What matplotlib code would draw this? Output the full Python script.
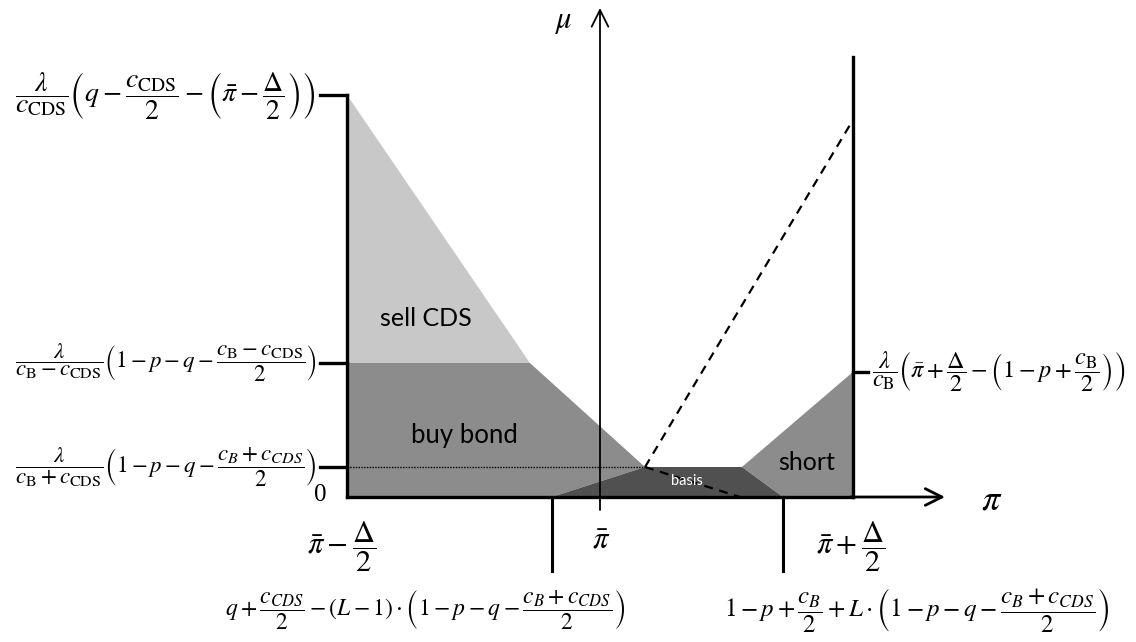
import matplotlib
matplotlib.use("Agg")
import matplotlib.pyplot as plt
from matplotlib.patches import Polygon

plt.rcParams['mathtext.fontset'] = 'stix'

# ---- schematic coordinates (pi on x, mu on y) ----
pi_left, pi_bar, pi_right = -1.0, 0.0, 1.0
pi_kink = -0.277          # end of sell CDS diagonal
pi_apex = 0.178           # basis apex (left top)
pi_basis_tr = 0.561       # basis right top
pi_low_left = -0.19       # bottom marker left
pi_low_right = 0.723      # bottom marker right
pi_dash_end = 0.553       # lower dashed end

mu_sell = 4.02
mu_bond = 1.34
mu_basis = 0.30
mu_short = 1.25
mu_dash_top = 3.77
mu_right_top = 4.40

region_names = ["sell CDS", "buy bond", "short", "basis"]
region_colors = ["#c8c8c8", "#8c8c8c", "#8c8c8c", "#505050"]

left_labels = [
    r"$\dfrac{\lambda}{c_{\mathrm{CDS}}}\left(q-\dfrac{c_{\mathrm{CDS}}}{2}-\left(\bar{\pi}-\dfrac{\Delta}{2}\right)\right)$",
    r"$\dfrac{\lambda}{c_{\mathrm{B}}-c_{\mathrm{CDS}}}\left(1-p-q-\dfrac{c_{\mathrm{B}}-c_{\mathrm{CDS}}}{2}\right)$",
    r"$\dfrac{\lambda}{c_{\mathrm{B}}+c_{\mathrm{CDS}}}\left(1-p-q-\dfrac{c_{B}+c_{CDS}}{2}\right)$",
]
right_label = r"$\dfrac{\lambda}{c_{\mathrm{B}}}\left(\bar{\pi}+\dfrac{\Delta}{2}-\left(1-p+\dfrac{c_{\mathrm{B}}}{2}\right)\right)$"
bottom_labels = [r"$\bar{\pi}-\dfrac{\Delta}{2}$", r"$\bar{\pi}$", r"$\bar{\pi}+\dfrac{\Delta}{2}$"]
low_labels = [
    r"$q+\dfrac{c_{CDS}}{2}-(L-1)\cdot\left(1-p-q-\dfrac{c_{B}+c_{CDS}}{2}\right)$",
    r"$1-p+\dfrac{c_{B}}{2}+L\cdot\left(1-p-q-\dfrac{c_{B}+c_{CDS}}{2}\right)$",
]

fig = plt.figure(figsize=(11.36, 6.42), dpi=100)
ax = fig.add_axes([0, 0, 1, 1])
ax.set_xlim(-2.372, 2.119)
ax.set_ylim(-1.45, 4.97)
ax.axis("off")

# regions
polys = [
    [(pi_left, mu_sell), (pi_kink, mu_bond), (pi_left, mu_bond)],
    [(pi_left, mu_bond), (pi_kink, mu_bond), (pi_apex, mu_basis), (pi_low_left, 0), (pi_left, 0)],
    [(pi_basis_tr, mu_basis), (pi_right, mu_short), (pi_right, 0), (pi_low_right, 0)],
    [(pi_low_left, 0), (pi_apex, mu_basis), (pi_basis_tr, mu_basis), (pi_low_right, 0)],
]
for pts, c in zip(polys, region_colors):
    ax.add_patch(Polygon(pts, closed=True, facecolor=c, edgecolor="none", zorder=1))

# dotted line
ax.plot([pi_left, pi_apex], [mu_basis, mu_basis], color="black", lw=1.0, ls=(0, (1, 1)), zorder=3)
# dashed lines
ax.plot([pi_apex, pi_right], [mu_basis, mu_dash_top], color="black", lw=1.6, ls=(0, (4, 3)), zorder=3)
ax.plot([pi_apex, pi_dash_end], [mu_basis, 0], color="black", lw=1.6, ls=(0, (4, 3)), zorder=3)

# border lines
ax.plot([pi_left, pi_left], [0, mu_sell], color="black", lw=2.4, zorder=4)
ax.plot([pi_right, pi_right], [0, mu_right_top], color="black", lw=2.4, zorder=4)
ax.plot([pi_low_left, pi_low_left], [0, -0.74], color="black", lw=2.2, zorder=4)
ax.plot([pi_low_right, pi_low_right], [0, -0.74], color="black", lw=2.2, zorder=4)
ax.plot([pi_left, pi_right], [0, 0], color="black", lw=2.4, zorder=4)

# ticks
for mu in [mu_sell, mu_bond, mu_basis]:
    ax.plot([pi_left - 0.107, pi_left], [mu, mu], color="black", lw=2.4, zorder=4)
ax.plot([pi_right, pi_right + 0.06], [mu_short, mu_short], color="black", lw=2.4, zorder=4)

# axes arrows
ax.annotate("", xy=(1.364, 0), xytext=(pi_right - 0.01, 0),
            arrowprops=dict(arrowstyle="->", lw=2.0, mutation_scale=30, color="black", shrinkA=0, shrinkB=0), zorder=5)
ax.annotate("", xy=(pi_bar, 4.89), xytext=(pi_bar, -0.13),
            arrowprops=dict(arrowstyle="->", lw=1.3, mutation_scale=30, color="black", shrinkA=0, shrinkB=0), zorder=5)

# region labels
ax.text(-0.690, 1.79, region_names[0], fontsize=18, family="Lato", ha="center", va="center", zorder=6)
ax.text(-0.535, 0.62, region_names[1], fontsize=18.5, family="Lato", ha="center", va="center", zorder=6)
ax.text(0.818, 0.35, region_names[2], fontsize=18, family="Lato", ha="center", va="center", zorder=6)
ax.text(0.344, 0.16, region_names[3], fontsize=10.5, family="Lato", color="white", ha="center", va="center", zorder=6)

# axis labels
ax.text(-0.146, 4.75, r"$\mu$", fontsize=22, ha="center", va="center")
ax.text(1.55, -0.03, r"$\pi$", fontsize=26, ha="center", va="center")
ax.text(-1.107, 0.02, "0", fontsize=18, family="Liberation Serif", ha="center", va="center")

# left labels
left_sizes = [20, 16.5, 16.5]
left_x = [-1.126, -1.118, -1.118]
for lab, mu, fs, x in zip(left_labels, [mu_sell, mu_bond, mu_basis], left_sizes, left_x):
    ax.text(x, mu, lab, fontsize=fs, ha="right", va="center")
ax.text(1.075, mu_short, right_label, fontsize=17.5, ha="left", va="center")

# bottom labels
ax.text(pi_left - 0.02, -0.50, bottom_labels[0], fontsize=22, ha="center", va="center")
ax.text(pi_bar + 0.005, -0.43, bottom_labels[1], fontsize=22, ha="center", va="center")
ax.text(pi_right - 0.01, -0.50, bottom_labels[2], fontsize=22, ha="center", va="center")
ax.text(-0.692, -1.13, low_labels[0], fontsize=17, ha="center", va="center")
ax.text(1.25, -1.13, low_labels[1], fontsize=18, ha="center", va="center")

fig.savefig("out.png", dpi=100)
